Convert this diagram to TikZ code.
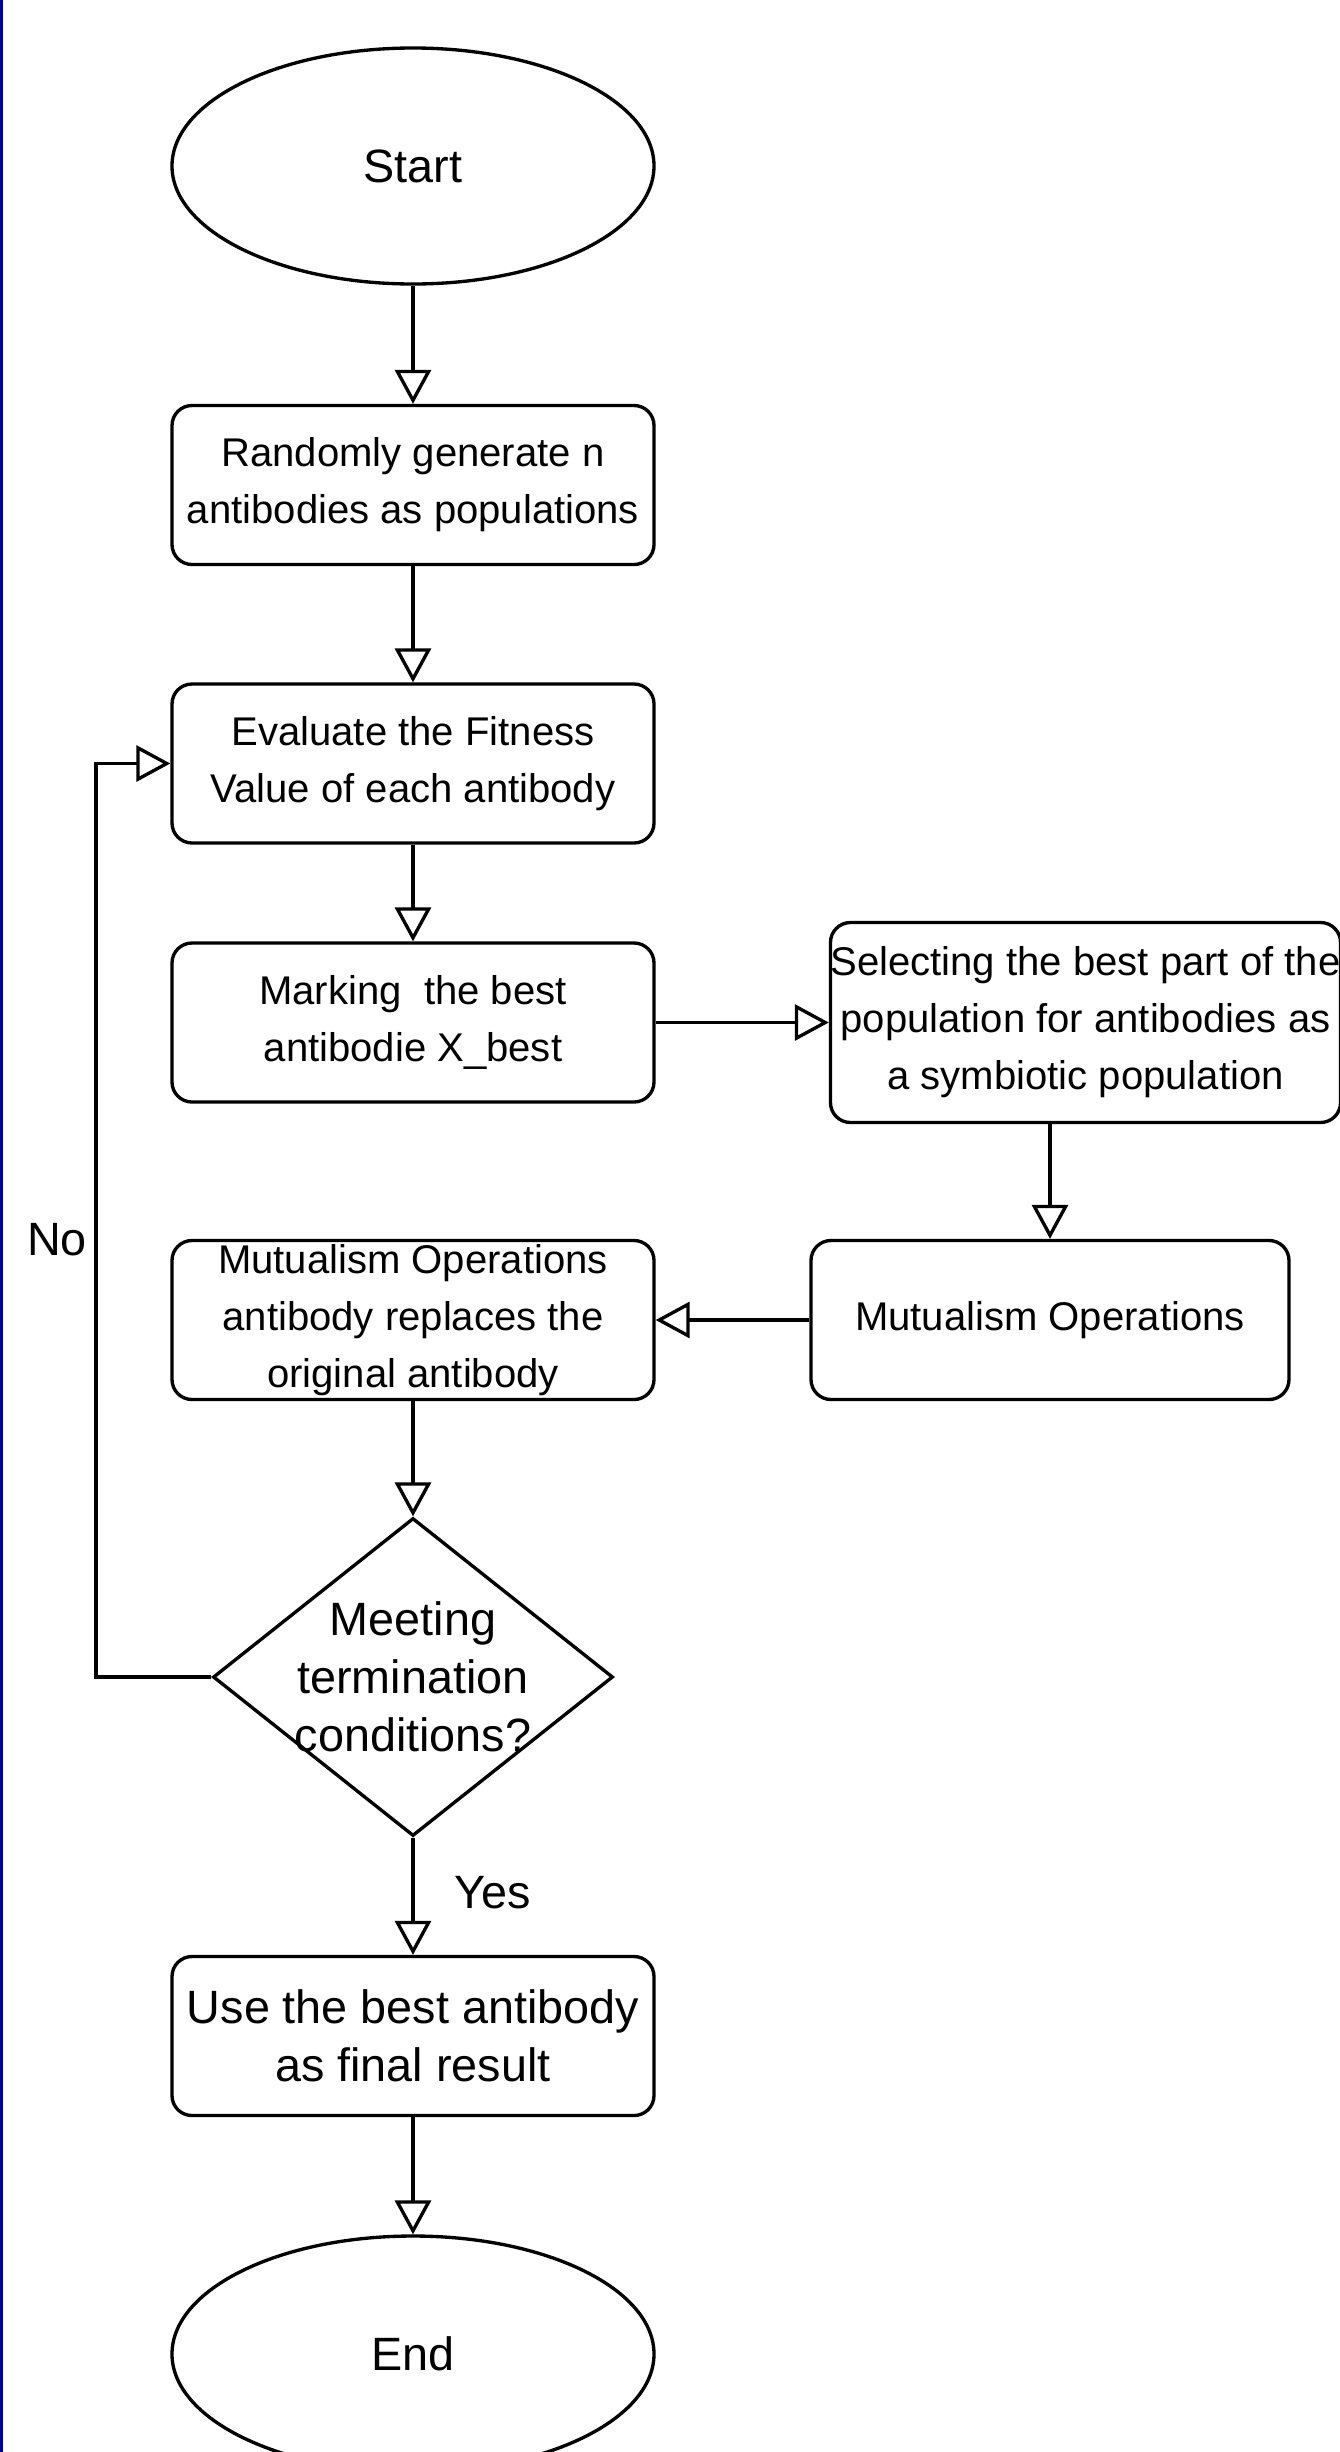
\documentclass[tikz,border=0pt]{standalone}
\usepackage{fontspec}
\setmainfont{Liberation Sans}
\usepackage{xcolor}
\usepackage{tikz}
\usetikzlibrary{arrows.meta}
\usetikzlibrary{shapes.geometric}
\definecolor{stripcolor}{HTML}{000088}
\newcommand{\boxfont}{\fontsize{22.8pt}{32.5pt}\selectfont}
\newcommand{\termfont}{\fontsize{26.6pt}{33pt}\selectfont}

\begin{document}
\begin{tikzpicture}[line width=1.9pt,
  procbox/.style={draw, rounded corners=0.4cm, minimum width=9.64cm, minimum height=3.18cm, inner sep=0pt, align=center, font=\boxfont},
  termnode/.style={draw, ellipse, minimum width=9.64cm, minimum height=4.72cm, inner sep=0pt, font=\termfont},
  decnode/.style={draw, diamond, minimum width=8cm, minimum height=6.36cm, inner sep=0pt},
  flowline/.style={-{Triangle[open,length=0.68cm,width=0.72cm]}}]
%%\draw[step=1cm,color=gray!50,dotted] (0,-49) grid (27,0);
\useasboundingbox (0,0) rectangle (26.8,-49.04);
\fill[stripcolor] (0,0) rectangle (0.06,-49.04);

\node[termnode] (start) at (8.26,-3.32) {Start};
\node[procbox] (init) at (8.26,-9.70) {Randomly generate n\\antibodies as populations};
\node[procbox] (eval) at (8.26,-15.27) {Evaluate the Fitness\\Value of each antibody};
\node[procbox] (mark) at (8.26,-20.45) {Marking~ the best\\antibodie X\_best};
\node[procbox, minimum width=10.14cm, minimum height=4cm] (select) at (21.71,-20.45) {Selecting the best part of the\\population for antibodies as\\a symbiotic population};
\node[procbox, minimum width=9.56cm] (mutual) at (21.0,-26.4) {Mutualism Operations};
\node[procbox] (repl) at (8.26,-26.4) {Mutualism Operations\\ antibody replaces the\\original antibody};
\node[decnode, label={[font=\termfont, align=center]center:{Meeting\\termination\\conditions?}}] (cond) at (8.26,-33.54) {};
\node[procbox, font=\termfont] (final) at (8.26,-40.72) {Use the best antibody\\as final result};
\node[termnode] (stop) at (8.26,-47.08) {End};

\node[font=\termfont] (yes) at (9.86,-37.86) {Yes};
\node[font=\termfont] (no) at (1.14,-24.8) {No};
\coordinate (back) at (1.92,-33.54);

\foreach \from/\to in {start/init, init/eval, eval/mark, repl/cond, cond/final, final/stop}
    \draw[flowline] (\from) -- (\to);
\draw[flowline] (mark) -- (select);
\draw[flowline] (select.south -| mutual.north) -- (mutual);
\draw[flowline] (mutual) -- (repl);
\draw[flowline] (cond.west) -- (back) |- (eval.west);
\end{tikzpicture}
\end{document}
